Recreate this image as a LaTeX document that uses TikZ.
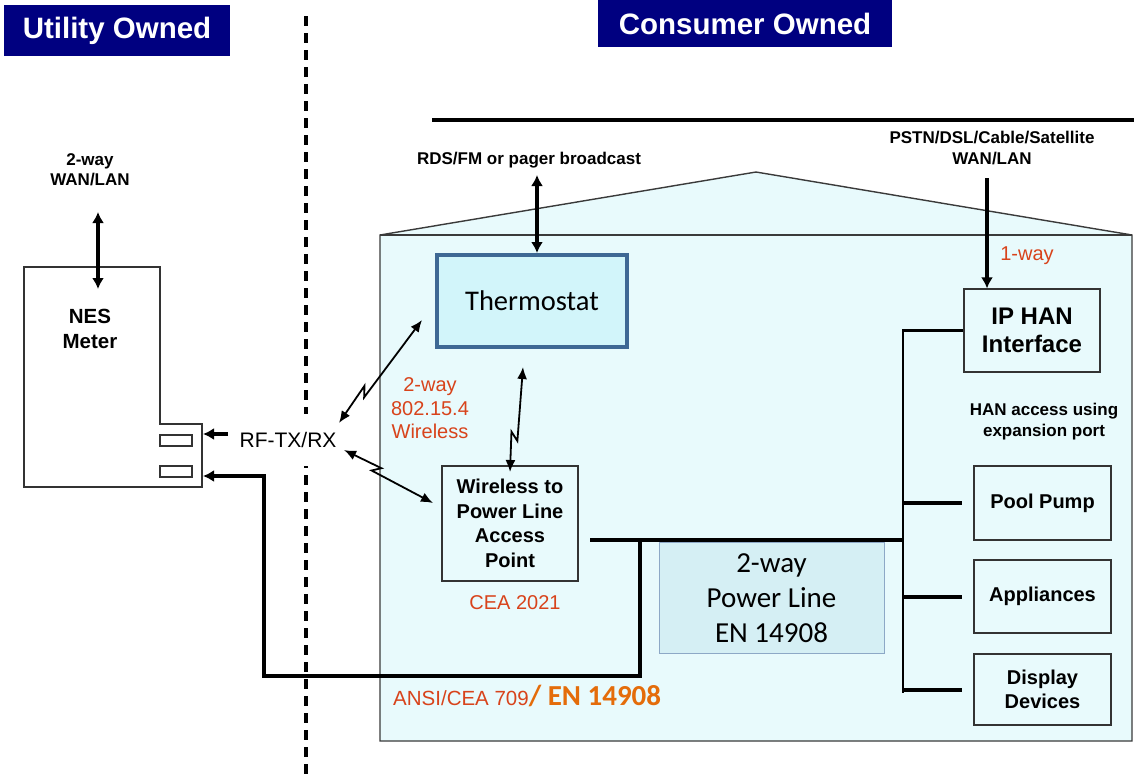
\documentclass[tikz,border=0pt]{standalone}
\usepackage{fontspec}
\setmainfont{Liberation Sans}
\newfontfamily\calib{Carlito}
\usetikzlibrary{arrows.meta,calc}
\definecolor{navyhdr}{HTML}{000080}
\definecolor{redtxt}{HTML}{D8431B}
\definecolor{orangetxt}{HTML}{E46C0A}
\definecolor{housefill}{HTML}{E8FAFC}
\definecolor{housedraw}{HTML}{3A3A3A}
\definecolor{thermofill}{HTML}{D2F5FA}
\definecolor{thermodraw}{HTML}{3E6894}
\definecolor{plfill}{HTML}{D5EFF4}
\definecolor{pldraw}{HTML}{8DA8C6}
\definecolor{boxdraw}{HTML}{333333}
\begin{document}
\begin{tikzpicture}[x=1pt,y=-1pt,
  header/.style={fill=navyhdr, text=white, inner sep=0pt, font=\bfseries\fontsize{29.5}{31}\selectfont},
  lbl/.style={align=center, inner sep=0pt, font=\bfseries\fontsize{17}{21}\selectfont},
  redlbl/.style={align=center, inner sep=0pt, text=redtxt, font=\fontsize{20}{23.5}\selectfont},
  wbox/.style={draw=boxdraw, line width=1.2pt, fill=housefill, align=center, inner sep=0pt, font=\bfseries\fontsize{20}{24.5}\selectfont},
  thickarrow/.style={line width=4pt, {Latex[length=11pt,width=12pt]}-{Latex[length=11pt,width=12pt]}},
  onearrow/.style={line width=4pt, -{Latex[length=11pt,width=12pt]}},
  warrow/.style={line width=1.8pt, {Latex[length=12pt,width=10pt]}-{Latex[length=12pt,width=10pt]}},
  bus/.style={line width=4pt},
  thinbus/.style={line width=2.2pt}
]
\useasboundingbox (0,0) rectangle (1134,777);

% headers
\node[header, minimum width=226pt, minimum height=51pt] (hu) at (117,30.5) {Utility Owned};
\node[header, minimum width=294pt, minimum height=47pt] (hc) at (745,23.5) {Consumer Owned};

% divider and top line
\coordinate (dashTop) at (306,16);
\coordinate (dashBot) at (306,777);
\draw[line width=3.5pt, dash pattern=on 10pt off 7pt] (dashTop) -- (dashBot);
\coordinate (topL) at (432,120);
\coordinate (topR) at (1134,120);
\draw[line width=4.5pt] (topL) -- (topR);

% house
\coordinate (hBL) at (380,741);
\coordinate (hTL) at (380,235);
\coordinate (hApex) at (756,172);
\coordinate (hTR) at (1132,235);
\coordinate (hBR) at (1132,741);
\draw[fill=housefill, draw=housedraw, line width=1.4pt] (hTL) -- (hApex) -- (hTR) -- (hBR) -- (hBL) -- cycle;
\draw[draw=housedraw, line width=1.4pt] (hTL) -- (hTR);

% meter
\coordinate (m1) at (24,267);
\draw[draw=boxdraw, fill=white, line width=1.2pt] (m1) -- (160,267) -- (160,424) -- (202,424) -- (202,487) -- (24,487) -- cycle;
\node[draw=boxdraw, line width=1.2pt, minimum width=32pt, minimum height=11pt, inner sep=0pt] (port1) at (176,440.5) {};
\node[draw=boxdraw, line width=1.2pt, minimum width=32pt, minimum height=11pt, inner sep=0pt] (port2) at (176,471.5) {};
\node[lbl, font=\bfseries\fontsize{20.5}{25}\selectfont] (nes) at (90,329) {NES\\Meter};

% WAN/LAN left
\node[lbl, font=\bfseries\fontsize{17}{20}\selectfont] (wan) at (90,170) {2-way\\WAN/LAN};
\coordinate (wanA) at (98,212);
\coordinate (wanB) at (98,289);
\draw[thickarrow] (wanA) -- (wanB);

% RF label (white box interrupts the divider)
\node[fill=white, minimum width=96pt, minimum height=52pt, inner sep=0pt, font=\fontsize{21}{24}\selectfont] (rf) at (288,440) {RF-TX/RX};
\coordinate (rfArrowTail) at (228,434);
\coordinate (port1Tip) at (203,434);
\draw[onearrow] (rfArrowTail) -- (port1Tip);

% thermostat
\node[draw=thermodraw, line width=4pt, fill=thermofill, minimum width=190pt, minimum height=92pt, inner sep=0pt, font=\calib\fontsize{28.5}{30}\selectfont] (thermo) at (532,301) {Thermostat};
\node[lbl] (rds) at (529,160) {RDS/FM or pager broadcast};
\coordinate (rdsA) at (537,175);
\draw[thickarrow] (rdsA) -- ([xshift=5pt]thermo.north);

% access point
\node[wbox, minimum width=136pt, minimum height=115pt] (ap) at (510,523.5) {Wireless to\\Power Line\\Access\\Point};
\node[redlbl] (cea) at (515,603) {CEA 2021};
\node[redlbl] (wl) at (430,408.5) {2-way\\802.15.4\\Wireless};

% wireless zigzag arrows
\coordinate (z1a) at (339,423);
\coordinate (z1b) at (422,320);
\draw[warrow] (z1a) -- ($(z1a)!0.34!(z1b)!3.5pt!90:(z1b)$) -- ($(z1a)!0.27!(z1b)!3.5pt!-90:(z1b)$) -- (z1b);
\coordinate (z2a) at (344,450);
\coordinate (z2b) at (433,503);
\draw[warrow] (z2a) -- ($(z2a)!0.40!(z2b)!3.5pt!90:(z2b)$) -- ($(z2a)!0.33!(z2b)!3.5pt!-90:(z2b)$) -- (z2b);
\coordinate (z3a) at (523,367);
\coordinate (z3b) at (510,472);
\draw[warrow] (z3a) -- ($(z3a)!0.70!(z3b)!3.5pt!90:(z3b)$) -- ($(z3a)!0.62!(z3b)!3.5pt!-90:(z3b)$) -- (z3b);

% power line
\node[draw=pldraw, line width=1pt, fill=plfill, minimum width=225pt, minimum height=111pt, inner sep=0pt, align=center, font=\calib\fontsize{29}{35}\selectfont] (pl) at (771.5,598) {2-way\\Power Line\\EN 14908};
\coordinate (plStart) at (590,540);
\coordinate (busJ) at (903,540);
\coordinate (drop) at (640,540);
\draw[bus] (plStart) -- (busJ);
\coordinate (port2Tip) at (203,476);
\draw[bus, -{Latex[length=11pt,width=12pt]}, line join=miter] (drop) -- (640,676) -- (264,676) -- (264,476) -- (port2Tip);

% IP HAN interface and bus
\node[wbox, font=\bfseries\fontsize{24}{28}\selectfont, minimum width=136pt, minimum height=83pt] (iphan) at (1032,330.5) {IP HAN\\Interface};
\node[lbl] (pstn) at (992,148.5) {PSTN/DSL/Cable/Satellite\\WAN/LAN};
\coordinate (pstnA) at (987,178);
\draw[onearrow] (pstnA) -- ([xshift=-45pt]iphan.north);
\node[redlbl] (oneway) at (1027,256) {1-way};
\node[lbl] (han) at (1044,421.5) {HAN access using\\expansion port};

\node[wbox, minimum width=137pt, minimum height=74pt] (pool) at (1042.5,503) {Pool Pump};
\node[wbox, minimum width=137pt, minimum height=73pt] (appl) at (1042.5,596.5) {Appliances};
\node[wbox, minimum width=137pt, minimum height=71pt] (disp) at (1042.5,689.5) {Display\\Devices};

\coordinate (busBot) at (903,693);
\draw[thinbus] (iphan.west) -| (busBot);
\draw[bus] (busBot |- pool.west) -- ([xshift=-11pt]pool.west);
\draw[bus] (busBot |- appl.west) -- ([xshift=-11pt]appl.west);
\draw[bus] (busBot |- disp.west) -- ([xshift=-11pt]disp.west);

% standards label
\node[anchor=base west, inner sep=0pt, text=redtxt, font=\fontsize{20.5}{24}\selectfont] (ansi) at (393,705) {ANSI/CEA 709{\calib\bfseries\fontsize{29}{30}\selectfont\color{orangetxt}/ EN 14908}};
\end{tikzpicture}
\end{document}
